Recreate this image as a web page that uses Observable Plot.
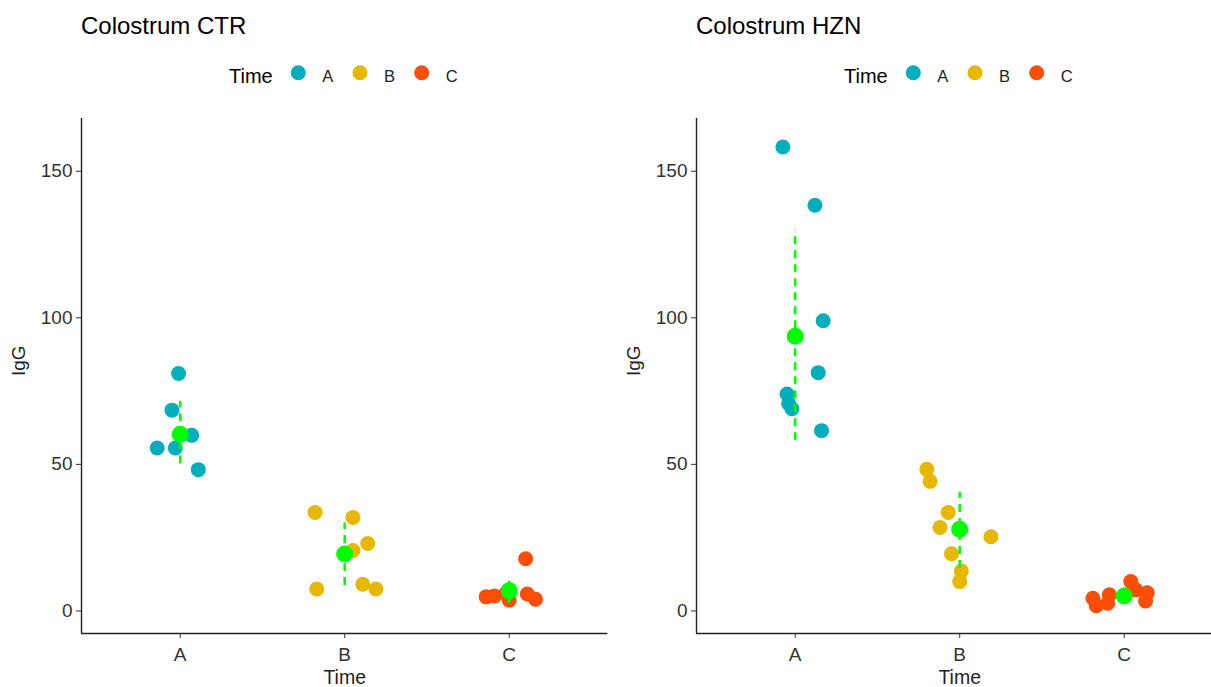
<!DOCTYPE html>
<html>
<head>
<meta charset="utf-8">
<script src="https://cdn.jsdelivr.net/npm/d3@7"></script>
<script src="https://cdn.jsdelivr.net/npm/@observablehq/plot@0.6"></script>
<style>
  body { margin: 0; background: #fff; font-family: "Liberation Sans", Arial, sans-serif; }
  #root { position: relative; width: 1211px; height: 687px; overflow: hidden; background: #fff; }
  .panel { position: absolute; top: 0; width: 615px; height: 687px; }
  .header { position: absolute; left: 0; top: 0; }
</style>
</head>
<body>
<div id="root"></div>
<script>
// ---- data ----
const cats = ["A", "B", "C"];
const colors = ["#00AFBB", "#E7B800", "#FC4E07"];
const meanColor = "#00FF00";
const titles = ["Colostrum CTR", "Colostrum HZN"];
const yTicks = [0, 50, 100, 150];

// Colostrum CTR
const ctrTime   = ["A","A","A","A","A","A", "B","B","B","B","B","B","B", "C","C","C","C","C","C","C"];
const ctrIgG    = [81.0,68.5,59.9,55.6,55.6,48.2, 33.6,31.9,23.0,20.6,7.5,9.1,7.5, 17.8,4.8,5.1,3.7,6.0,5.8,4.0];
const ctrJitter = [-0.01,-0.05,0.07,-0.14,-0.03,0.11, -0.18,0.05,0.14,0.05,-0.17,0.11,0.19, 0.10,-0.14,-0.09,0.0,-0.02,0.11,0.16];
const ctrMean = [60.3, 19.4, 6.9];
const ctrLow  = [50.2, 8.7, 2.6];
const ctrHigh = [71.5, 30.0, 11.2];

// Colostrum HZN
const hznTime   = ["A","A","A","A","A","A","A","A", "B","B","B","B","B","B","B","B", "C","C","C","C","C","C","C","C"];
const hznIgG    = [158.3,138.4,99.0,81.3,74.0,70.8,69.0,61.5, 48.3,44.2,33.6,28.5,25.3,19.5,13.6,10.0, 4.3,1.8,5.5,2.6,10.0,6.2,3.4,7.2];
const hznJitter = [-0.075,0.12,0.17,0.14,-0.05,-0.04,-0.02,0.16, -0.20,-0.18,-0.07,-0.12,0.19,-0.05,0.01,0.0, -0.19,-0.17,-0.09,-0.10,0.04,0.14,0.13,0.07];
const hznMean = [93.7, 27.9, 5.1];
const hznLow  = [58.1, 14.5, 2.4];
const hznHigh = [129.9, 40.5, 7.8];

const yDomain = [-7.7, 168];
const xDomain = [0.4, 3.6];
const FONT = "'Liberation Sans', Arial, sans-serif";

function makeRows(time, igg, jit) {
  return time.map((t, i) => ({ time: t, igg: igg[i], pos: cats.indexOf(t) + 1 + jit[i] }));
}
function makeStats(mean, lo, hi) {
  return cats.map((c, i) => ({ time: c, pos: i + 1, mean: mean[i], lo: lo[i], hi: hi[i] }));
}

function header(title) {
  const svg = d3.create("svg").attr("class", "header").attr("width", 615).attr("height", 100)
    .style("font-family", FONT);
  svg.append("text").attr("x", 81).attr("y", 34).attr("font-size", 24).attr("fill", "#000").text(title);
  svg.append("text").attr("x", 229).attr("y", 82.5).attr("font-size", 20).attr("fill", "#000").text("Time");
  cats.forEach((c, i) => {
    const x0 = 298.3 + i * 61.7;
    svg.append("circle").attr("cx", x0).attr("cy", 72.7).attr("r", 7.5).attr("fill", colors[i]);
    svg.append("text").attr("x", x0 + 24).attr("y", 81.5).attr("font-size", 16.5).attr("fill", "#222").text(c);
  });
  return svg.node();
}

function chart(rows, stats) {
  return Plot.plot({
    width: 615,
    height: 587,
    marginLeft: 81,
    marginRight: 7.6,
    marginTop: 18,
    marginBottom: 54,
    x: { domain: xDomain, axis: null },
    y: { domain: yDomain, axis: null },
    color: { domain: cats, range: colors },
    style: { fontFamily: FONT, background: "white", color: "#333", overflow: "visible" },
    marks: [
      Plot.ruleX([xDomain[0]], { stroke: "#222", strokeWidth: 1.4 }),
      Plot.ruleY([yDomain[0]], { stroke: "#222", strokeWidth: 1.4 }),
      Plot.axisY({ ticks: yTicks, tickSize: 5, tickPadding: 4, fontSize: 19, label: null, stroke: "#333" }),
      Plot.axisX({ ticks: [1, 2, 3], tickFormat: d => cats[d - 1], tickSize: 5, tickPadding: 9, fontSize: 19, label: null, stroke: "#333" }),
      Plot.text(["IgG"], { frameAnchor: "left", dx: -63, rotate: -90, fontSize: 19, fill: "#222" }),
      Plot.text(["Time"], { frameAnchor: "bottom", dy: 50, fontSize: 19.5, fill: "#222" }),
      Plot.dot(rows, { x: "pos", y: "igg", r: 7.5, fill: "time", stroke: null }),
      Plot.ruleX(stats, { x: "pos", y1: "lo", y2: "hi", stroke: meanColor, strokeWidth: 2.5, strokeDasharray: "8,6" }),
      Plot.dot(stats, { x: "pos", y: "mean", r: 8.5, fill: meanColor, stroke: null })
    ]
  });
}

const root = document.getElementById("root");
const panels = [
  { title: titles[0], rows: makeRows(ctrTime, ctrIgG, ctrJitter), stats: makeStats(ctrMean, ctrLow, ctrHigh), left: 0 },
  { title: titles[1], rows: makeRows(hznTime, hznIgG, hznJitter), stats: makeStats(hznMean, hznLow, hznHigh), left: 615 }
];
panels.forEach(p => {
  const div = document.createElement("div");
  div.className = "panel";
  div.style.left = p.left + "px";
  div.appendChild(header(p.title));
  const c = chart(p.rows, p.stats);
  c.style.position = "absolute";
  c.style.left = "0px";
  c.style.top = "100px";
  div.appendChild(c);
  root.appendChild(div);
});
</script>
</body>
</html>
